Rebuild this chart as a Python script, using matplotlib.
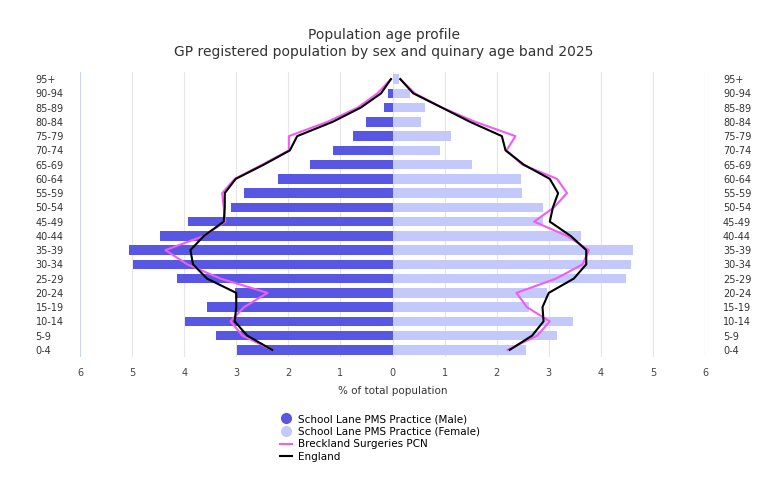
import matplotlib.pyplot as plt
import numpy as np
from matplotlib.lines import Line2D

ages = ["0-4", "5-9", "10-14", "15-19", "20-24", "25-29", "30-34", "35-39", "40-44", "45-49",
        "50-54", "55-59", "60-64", "65-69", "70-74", "75-79", "80-84", "85-89", "90-94", "95+"]
male = [2.98, 3.38, 3.99, 3.56, 3.03, 4.13, 4.99, 5.05, 4.46, 3.92,
        3.10, 2.86, 2.19, 1.59, 1.15, 0.76, 0.51, 0.17, 0.08, 0.0]
female = [2.56, 3.16, 3.46, 2.63, 2.97, 4.49, 4.58, 4.62, 3.61, 2.88,
          2.88, 2.49, 2.47, 1.52, 0.92, 1.13, 0.54, 0.63, 0.33, 0.13]
eng_male = [2.31, 2.79, 3.03, 3.0, 3.0, 3.56, 3.83, 3.88, 3.62, 3.24,
            3.22, 3.22, 3.01, 2.47, 1.97, 1.83, 1.15, 0.61, 0.22, 0.03]
eng_female = [2.25, 2.68, 2.90, 2.88, 3.0, 3.48, 3.72, 3.72, 3.42, 3.02,
              3.08, 3.18, 3.02, 2.52, 2.17, 2.10, 1.49, 0.95, 0.40, 0.15]
pcn_male = [2.31, 2.88, 3.11, 2.85, 2.40, 3.30, 3.94, 4.36, 3.62, 3.21,
            3.24, 3.27, 3.03, 2.5, 1.99, 1.99, 1.25, 0.67, 0.29, 0.03]
pcn_female = [2.21, 2.78, 3.02, 2.58, 2.38, 3.14, 3.65, 3.77, 3.35, 2.72,
              3.10, 3.35, 3.16, 2.49, 2.19, 2.36, 1.59, 0.95, 0.43, 0.15]

y = np.arange(len(ages))
fig = plt.figure(figsize=(7.68, 4.99), dpi=100)
ax = fig.add_axes([80/768, 1-357/499, 625/768, 285/499])

ax.barh(y, -np.array(male), height=0.65, color="#5757e3", zorder=2)
ax.barh(y, female, height=0.65, color="#c3c9fb", zorder=2)
ax.plot(-np.array(pcn_male), y, color="#f25cf0", lw=1.5, zorder=3)
ax.plot(pcn_female, y, color="#f25cf0", lw=1.5, zorder=3)
ax.plot(-np.array(eng_male), y, color="black", lw=1.5, zorder=4)
ax.plot(eng_female, y, color="black", lw=1.5, zorder=4)

ax.set_xlim(-6, 6)
ax.set_ylim(-0.5, len(ages) - 0.5)
ax.set_xticks(range(-6, 7))
ax.set_xticklabels([str(abs(v)) for v in range(-6, 7)], fontsize=7, color="#444444")
ax.set_yticks(y)
ax.set_yticklabels(ages, fontsize=7, color="#333333", ha="left")
ax.tick_params(axis="x", length=0, pad=8)
ax.tick_params(axis="y", length=0, pad=32)
ax.grid(axis="x", color="#e6e6e6", lw=0.8, zorder=0)
for s in ax.spines.values():
    s.set_visible(False)
ax.axvline(-6, color="#ccd6eb", lw=0.8)
ax.axvline(6, color="#ccd6eb", lw=0.8)
ax.set_xlabel("% of total population", fontsize=7.5, color="#333333", labelpad=6)

ax2 = ax.twinx()
ax2.set_ylim(ax.get_ylim())
ax2.set_yticks(y)
ax2.set_yticklabels(ages, fontsize=7, color="#333333")
ax2.tick_params(axis="y", length=0, pad=13)
for s in ax2.spines.values():
    s.set_visible(False)

fig.text(0.5, 1-35/499, "Population age profile", ha="center", va="center", fontsize=10, color="#333333")
fig.text(0.5, 1-52/499, "GP registered population by sex and quinary age band 2025", ha="center", va="center", fontsize=10, color="#333333")

h = [Line2D([], [], marker="o", ls="", color="#5757e3", ms=7),
     Line2D([], [], marker="o", ls="", color="#c3c9fb", ms=7),
     Line2D([], [], color="#f25cf0", lw=1.5),
     Line2D([], [], color="black", lw=1.5)]
l = ["School Lane PMS Practice (Male)", "School Lane PMS Practice (Female)", "Breckland Surgeries PCN", "England"]
fig.legend(h, l, loc="center", bbox_to_anchor=(380/768, 1-438/499), frameon=False, fontsize=7.5,
           handlelength=1.2, labelspacing=0.25, handletextpad=0.6)

fig.savefig("out.png", dpi=100)
